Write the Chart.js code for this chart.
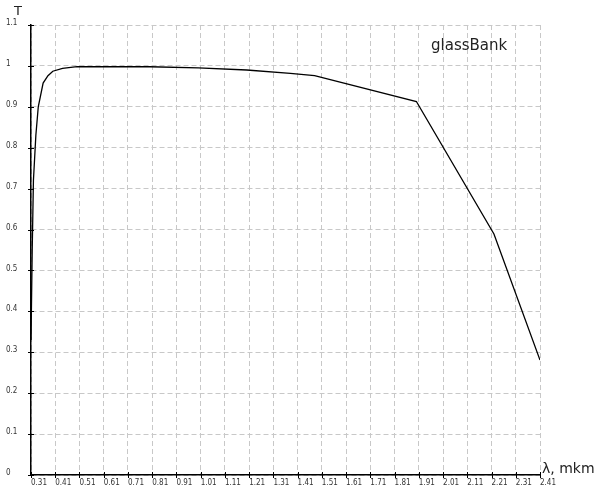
<!DOCTYPE html>
<html>
<head>
<meta charset="utf-8">
<script src="https://cdn.jsdelivr.net/npm/chart.js@4/dist/chart.umd.min.js"></script>
<style>
  body { margin: 0; background: #fff; }
</style>
</head>
<body>
<canvas id="chart" width="600" height="500"></canvas>
<script>
// wavelength, mkm
const wavelength = [0.31, 0.315, 0.32, 0.33, 0.34, 0.36, 0.38, 0.40, 0.44, 0.50, 0.80, 1.00, 1.20, 1.38, 1.48, 1.90, 2.22, 2.41];
// transmission
const transmission = [0.33, 0.55, 0.72, 0.83, 0.90, 0.958, 0.976, 0.987, 0.994, 0.998, 0.998, 0.995, 0.99, 0.982, 0.976, 0.913, 0.589, 0.281];

const xTicks = [0.31, 0.41, 0.51, 0.61, 0.71, 0.81, 0.91, 1.01, 1.11, 1.21, 1.31, 1.41, 1.51, 1.61, 1.71, 1.81, 1.91, 2.01, 2.11, 2.21, 2.31, 2.41];
const yTicks = [0, 0.1, 0.2, 0.3, 0.4, 0.5, 0.6, 0.7, 0.8, 0.9, 1, 1.1];

const seriesName = 'glassBank';
const xTitle = 'λ, mkm';
const yTitle = 'T';

const tickFont = { family: '"Liberation Sans Narrow", "DejaVu Sans Condensed", "DejaVu Sans"', size: 8 };

// crossing tick marks and the texts inside the plot
const decor = {
    id: 'decor',
    afterDraw(chart) {
        const { ctx, chartArea: a, scales: { x, y } } = chart;
        ctx.save();
        ctx.strokeStyle = '#000';
        ctx.lineWidth = 1;
        ctx.beginPath();
        x.ticks.forEach(t => {
            const px = Math.round(x.getPixelForValue(t.value)) + 0.5;
            ctx.moveTo(px, a.bottom - 3);
            ctx.lineTo(px, a.bottom + 3);
        });
        y.ticks.forEach(t => {
            const py = Math.round(y.getPixelForValue(t.value)) + 0.5;
            ctx.moveTo(a.left - 3, py);
            ctx.lineTo(a.left + 3, py);
        });
        ctx.stroke();

        ctx.fillStyle = '#222';
        ctx.textBaseline = 'alphabetic';
        ctx.textAlign = 'left';
        ctx.font = '15px "DejaVu Sans"';
        ctx.fillText(seriesName, 431, 50);
        ctx.font = '14px "DejaVu Sans"';
        ctx.fillText(xTitle, 542, 473);
        ctx.font = '13px "DejaVu Sans"';
        ctx.fillText(yTitle, 14, 15);
        ctx.restore();
    }
};

new Chart(document.getElementById('chart'), {
    type: 'scatter',
    data: {
        datasets: [{
            label: seriesName,
            data: wavelength.map((v, i) => ({ x: v, y: transmission[i] })),
            showLine: true,
            borderColor: '#000',
            borderWidth: 1.3,
            pointRadius: 0,
            tension: 0
        }]
    },
    options: {
        responsive: false,
        animation: false,
        layout: { padding: { left: 6, top: 25, right: 60, bottom: 0 } },
        plugins: {
            legend: { display: false },
            tooltip: { enabled: false }
        },
        scales: {
            x: {
                type: 'linear',
                min: 0.31,
                max: 2.41,
                afterBuildTicks: s => { s.ticks = xTicks.map(v => ({ value: v })); },
                afterFit: s => { s.height = 25; },
                grid: { color: '#c8c8c8', lineWidth: 1, drawTicks: false },
                border: { color: '#000', width: 1.5, dash: [5, 3] },
                ticks: {
                    font: tickFont,
                    color: '#333',
                    padding: 3,
                    align: 'start',
                    maxRotation: 0,
                    autoSkip: false,
                    callback: v => v.toFixed(2)
                }
            },
            y: {
                min: 0,
                max: 1.1,
                afterBuildTicks: s => { s.ticks = yTicks.map(v => ({ value: v })); },
                afterFit: s => { s.width = 25; },
                grid: { color: '#c8c8c8', lineWidth: 1, drawTicks: false },
                border: { color: '#000', width: 1.5, dash: [5, 3] },
                ticks: {
                    font: tickFont,
                    color: '#333',
                    crossAlign: 'far',
                    labelOffset: -2,
                    autoSkip: false,
                    callback: v => String(Math.round(v * 10) / 10)
                }
            }
        }
    },
    plugins: [decor]
});
</script>
</body>
</html>
